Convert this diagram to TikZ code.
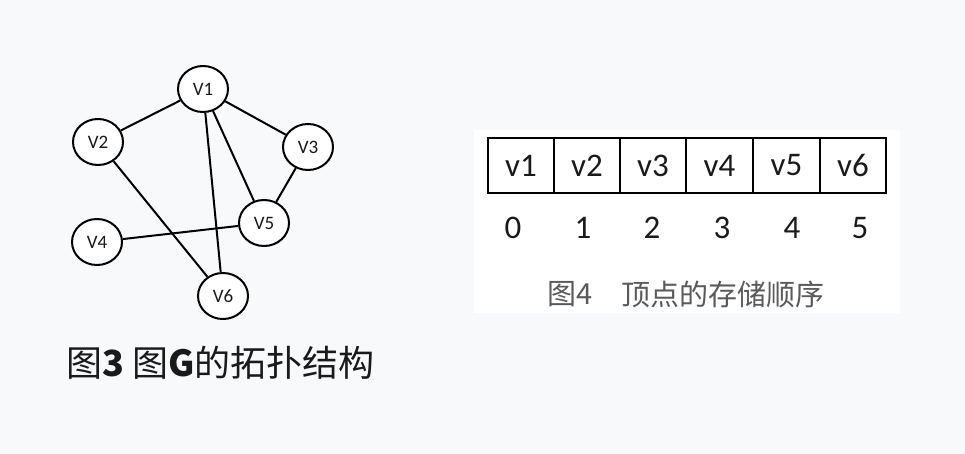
\documentclass[tikz,border=0pt]{standalone}
\usepackage{fontspec}
\setmainfont{Carlito}
\newfontfamily\cjk{Noto Sans CJK SC}
\usetikzlibrary{shapes.geometric}
\definecolor{bgc}{HTML}{F8F9FA}
\definecolor{ink}{HTML}{1A1A1A}
\definecolor{capgray}{HTML}{5A5A5A}
\tikzset{
  vtx/.style={ellipse, draw=black, line width=2pt, fill=white, minimum width=50pt, minimum height=46pt, inner sep=0pt, font=\fontsize{19}{22}\selectfont, text=ink},
  edge/.style={line width=2pt, draw=black},
  cell/.style={draw=black, line width=1.3pt, minimum width=66pt, minimum height=55pt, inner sep=0pt, font=\fontsize{33}{36}\selectfont, text=ink},
  idx/.style={font=\fontsize{33}{36}\selectfont, text=ink, inner sep=0pt},
}
\begin{document}
\begin{tikzpicture}[x=1pt,y=-1pt]
\fill[bgc] (0,0) rectangle (965,454);
\useasboundingbox (0,0) rectangle (965,454);
% graph
\node[vtx] (v1) at (203,89) {V1};
\node[vtx] (v2) at (98,142) {V2};
\node[vtx] (v3) at (308,147) {V3};
\node[vtx] (v4) at (97,242) {V4};
\node[vtx] (v5) at (264,223) {V5};
\node[vtx] (v6) at (223,296) {V6};
\draw[edge] (v1) -- (v2);
\draw[edge] (v1) -- (v3);
\draw[edge] (v1) -- (v5);
\draw[edge] (v1) -- (v6);
\draw[edge] (v3) -- (v5);
\draw[edge] (v2) -- (v6);
\draw[edge] (v4) -- (v5);
\node[anchor=west, inner sep=0pt, text=ink, font=\cjk\fontsize{36}{42}\selectfont] (cap3) at (66,363) {图{\bfseries 3} 图{\bfseries\itshape G}的拓扑结构};
% table
\fill[white] (474,130) rectangle (900,313);
\node[cell] (c1) at (521,165.5) {v1};
\node[cell] (c2) at (587,165.5) {v2};
\node[cell] (c3) at (653,165.5) {v3};
\node[cell] (c4) at (719.5,165.5) {v4};
\node[cell] (c5) at (786.5,165.5) {v5};
\node[cell] (c6) at (853,165.5) {v6};
\node[idx] (i0) at (513,228) {0};
\node[idx] (i1) at (583,228) {1};
\node[idx] (i2) at (652,228) {2};
\node[idx] (i3) at (722,228) {3};
\node[idx] (i4) at (792,228) {4};
\node[idx] (i5) at (860,228) {5};
\node[anchor=west, inner sep=0pt, text=capgray, font=\cjk\fontsize{29}{32}\selectfont] (cap4a) at (547,294) {图4};
\node[anchor=west, inner sep=0pt, text=capgray, font=\cjk\fontsize{29}{32}\selectfont] (cap4b) at (621,294) {顶点的存储顺序};
\end{tikzpicture}
\end{document}
